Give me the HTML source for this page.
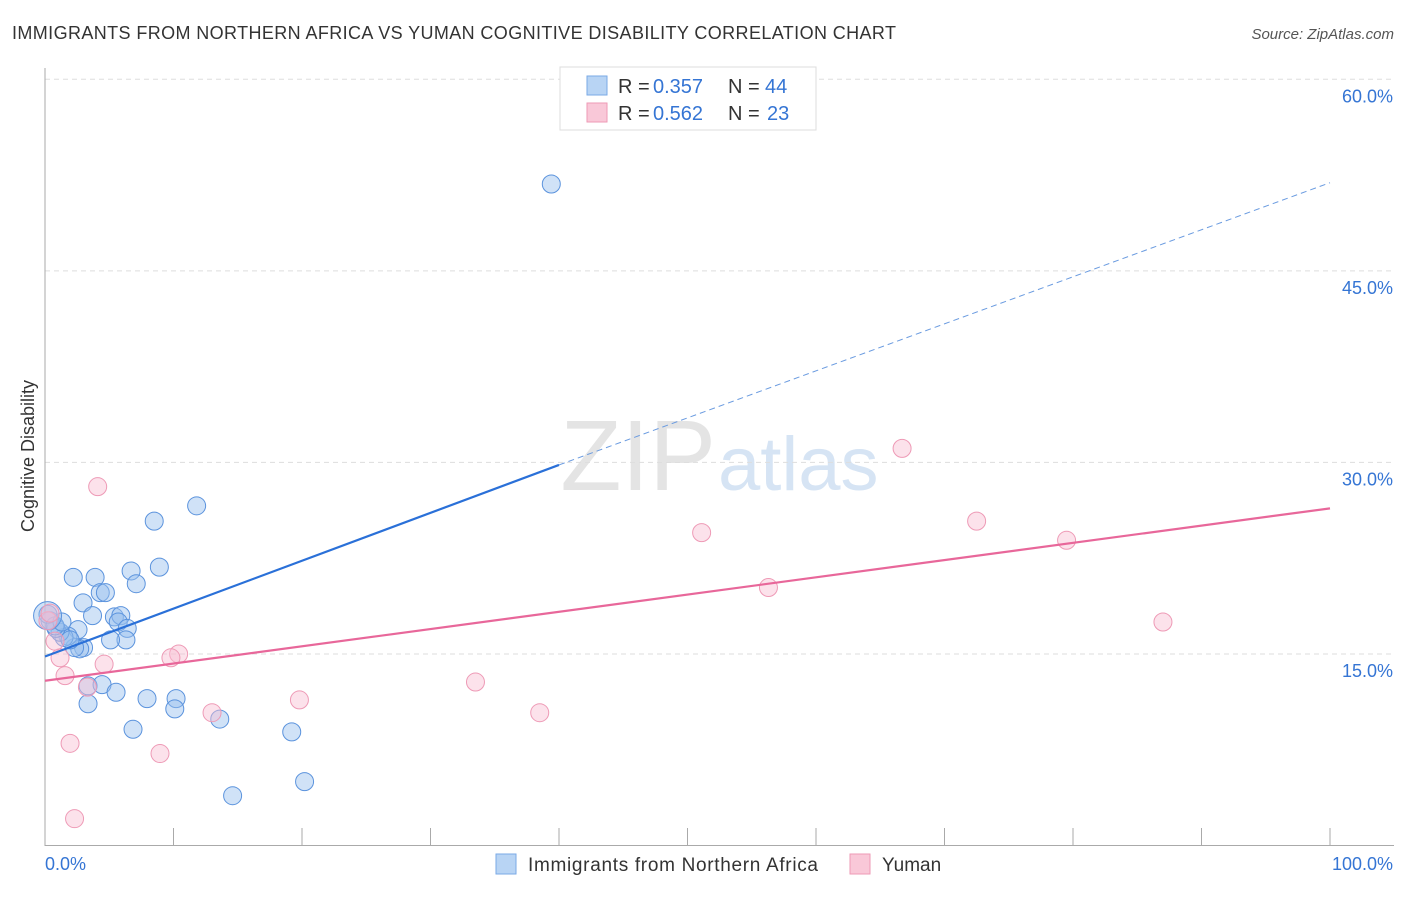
<!DOCTYPE html>
<html><head><meta charset="utf-8"><style>
body{margin:0;background:#fff;font-family:"Liberation Sans",sans-serif;}
svg text{font-family:"Liberation Sans",sans-serif;}
</style></head><body>
<svg id="c" width="1406" height="892">
<text x="12" y="39" font-size="18" fill="#333" textLength="884">IMMIGRANTS FROM NORTHERN AFRICA VS YUMAN COGNITIVE DISABILITY CORRELATION CHART</text>
<text x="1394" y="39" font-size="15" fill="#555" font-style="italic" text-anchor="end">Source: ZipAtlas.com</text>
<text x="34" y="456" font-size="18" fill="#333" text-anchor="middle" transform="rotate(-90 34 456)">Cognitive Disability</text>
<text x="716" y="490" font-size="100" fill="#e4e4e4" text-anchor="end" font-family="Liberation Serif">ZIP</text>
<text x="718" y="490" font-size="76" fill="#d6e4f4">atlas</text>
<g id="grid"></g><g id="pts"></g>
<g>
<rect x="560" y="67" width="256" height="63" fill="#fff" stroke="#ddd"/>
<rect x="587" y="76" width="20" height="19" fill="#b8d4f4" stroke="#7aaae6"/>
<rect x="587" y="103" width="20" height="19" fill="#f9c8d8" stroke="#ee9ab6"/>
<text x="618" y="93" font-size="20" fill="#333">R = </text><text x="653" y="93" font-size="20" fill="#3575d4">0.357</text>
<text x="728" y="93" font-size="20" fill="#333">N = </text><text x="765" y="93" font-size="20" fill="#3575d4">44</text>
<text x="618" y="120" font-size="20" fill="#333">R = </text><text x="653" y="120" font-size="20" fill="#3575d4">0.562</text>
<text x="728" y="120" font-size="20" fill="#333">N = </text><text x="767" y="120" font-size="20" fill="#3575d4">23</text>
</g>
<g>
<rect x="496" y="854" width="20" height="20" fill="#b8d4f4" stroke="#7aaae6"/>
<text x="528" y="871" font-size="19" fill="#333" textLength="290">Immigrants from Northern Africa</text>
<rect x="850" y="854" width="20" height="20" fill="#f9c8d8" stroke="#ee9ab6"/>
<text x="882" y="871" font-size="19" fill="#333">Yuman</text>
</g>
</svg>
<script>
const yTicks=[15,30,45,60];
const blueX=[39.4,11.8,8.5,8.9,6.7,7.1,2.2,3.9,4.3,4.7,2.96,3.7,5.4,5.9,5.7,6.4,2.57,6.3,5.1,3.0,2.7,2.3,1.79,1.48,1.17,0.86,0.39,0.23,0.78,1.32,3.35,4.44,5.53,7.94,10.2,10.1,3.35,6.85,13.6,19.2,20.2,14.6,0.2,1.95];
const blueY=[51.8,26.6,25.4,21.8,21.5,20.5,21.0,21.0,19.8,19.8,19.0,18.0,17.9,18.0,17.5,17.0,16.9,16.1,16.1,15.5,15.4,15.5,16.4,16.3,16.7,17.0,17.6,18.1,17.2,17.5,12.5,12.6,12.0,11.5,11.5,10.7,11.1,9.1,9.9,8.9,5.0,3.9,18.0,16.1];
const pinkX=[4.1,66.7,51.1,72.5,79.5,56.3,87.0,10.4,9.8,4.6,1.56,3.3,33.5,19.8,13.0,38.5,1.95,8.95,2.3,1.17,0.78,0.23,0.39];
const pinkY=[28.1,31.1,24.5,25.4,23.9,20.2,17.5,15.0,14.7,14.2,13.3,12.4,12.8,11.4,10.4,10.4,8.0,7.2,2.1,14.7,16.0,17.6,18.2];
const blueLine=[14.8,29.8,51.9];const pinkLine=[12.9,26.4];
const X=v=>45+v*12.85, Y=v=>845.5-v*12.77;
const ns="http://www.w3.org/2000/svg";
function mk(t,a,p){const e=document.createElementNS(ns,t);for(const k in a)e.setAttribute(k,a[k]);p.appendChild(e);return e;}
const g=document.getElementById('grid'),P=document.getElementById('pts');
for(const t of yTicks){const l=mk('line',{x1:45,x2:1394,y1:Y(t),y2:Y(t),stroke:'#ddd','stroke-dasharray':'5,4'},g);


const tx=mk('text',{x:1393,y:Y(t)+23,'font-size':18,fill:'#3575d4','text-anchor':'end'},g);tx.textContent=t.toFixed(1)+'%';

}
mk('line',{x1:45,x2:45,y1:68,y2:846,stroke:'#aaa'},g);
mk('line',{x1:45,x2:1394,y1:845.5,y2:845.5,stroke:'#aaa'},g);
for(let i=0;i<=10;i++){mk('line',{x1:X(i*10),x2:X(i*10),y1:828,y2:846,stroke:'#aaa'},g);}
let t0=mk('text',{x:45,y:870,'font-size':18,fill:'#3575d4'},g);t0.textContent='0.0%';


let t1=mk('text',{x:1393,y:870,'font-size':18,fill:'#3575d4','text-anchor':'end'},g);t1.textContent='100.0%';


for(let i=0;i<blueX.length;i++){const c=mk('circle',{cx:X(blueX[i]),cy:Y(blueY[i]),r:i==42?14:9,fill:'rgba(150,190,238,0.45)',stroke:'#5b93dd','stroke-width':1},P);

}
for(let i=0;i<pinkX.length;i++){const c=mk('circle',{cx:X(pinkX[i]),cy:Y(pinkY[i]),r:9,fill:'rgba(248,190,210,0.45)',stroke:'#ee9ab6','stroke-width':1},P);

}
let bl=mk('line',{x1:X(0),y1:Y(blueLine[0]),x2:X(40),y2:Y(blueLine[1]),stroke:'#2a70d8','stroke-width':2.2},P);


let bd=mk('line',{x1:X(40),y1:Y(blueLine[1]),x2:X(100),y2:Y(blueLine[2]),stroke:'#6a9be0','stroke-width':1,'stroke-dasharray':'6,4'},P);


let pl=mk('line',{x1:X(0),y1:Y(pinkLine[0]),x2:X(100),y2:Y(pinkLine[1]),stroke:'#e8679a','stroke-width':2.2},P);


</script>
</body></html>
